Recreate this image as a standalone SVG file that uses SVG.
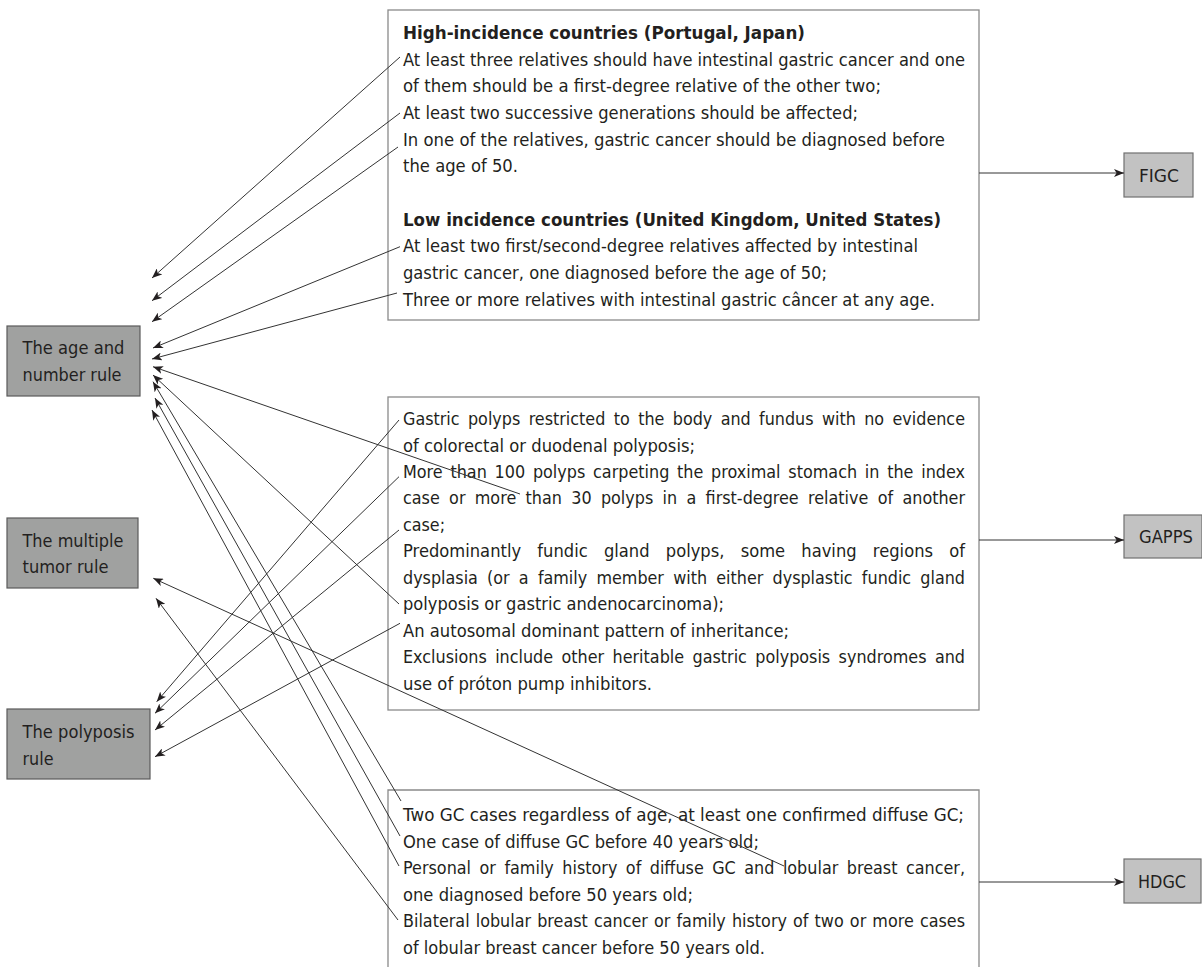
<svg xmlns="http://www.w3.org/2000/svg" width="1202" height="967" viewBox="0 0 1202 967">
<defs>
<marker id="ah" markerUnits="userSpaceOnUse" markerWidth="11" markerHeight="8" refX="10" refY="4" orient="auto">
<path d="M0,0 L10,4 L0,8 L2.6,4 z" fill="#231f20"/>
</marker>
<style>
.t{font-family:'DejaVu Sans',sans-serif;font-size:17px;fill:#231f20}
.b{font-weight:bold}
.lb{font-family:'DejaVu Sans',sans-serif;font-size:17.5px;fill:#231f20}
.rb{font-family:'DejaVu Sans',sans-serif;font-size:18px;fill:#231f20}
.box{fill:#ffffff;stroke:#8a8a8a;stroke-width:1.3}
.dk{fill:#a0a1a0;stroke:#5a5a5a;stroke-width:1.2}
.lt{fill:#c2c2c2;stroke:#707070;stroke-width:1.2}
.c line{stroke:#333333;stroke-width:1;fill:none;marker-end:url(#ah)}
</style>
</defs>
<rect width="1202" height="967" fill="#ffffff"/>

<g id="criteria-figc">
<rect class="box" x="388" y="10" width="591" height="310"/>
<text class="t b" x="403" y="39" textLength="402" lengthAdjust="spacingAndGlyphs">High-incidence countries (Portugal, Japan)</text>
<text class="t" x="403" y="65.7" textLength="562" lengthAdjust="spacingAndGlyphs">At least three relatives should have intestinal gastric cancer and one</text>
<text class="t" x="403" y="92.3" textLength="478" lengthAdjust="spacingAndGlyphs">of them should be a first-degree relative of the other two;</text>
<text class="t" x="403" y="119" textLength="455" lengthAdjust="spacingAndGlyphs">At least two successive generations should be affected;</text>
<text class="t" x="403" y="145.7" textLength="542" lengthAdjust="spacingAndGlyphs">In one of the relatives, gastric cancer should be diagnosed before</text>
<text class="t" x="403" y="172.3" textLength="115" lengthAdjust="spacingAndGlyphs">the age of 50.</text>
<text class="t b" x="403" y="225.7" textLength="538" lengthAdjust="spacingAndGlyphs">Low incidence countries (United Kingdom, United States)</text>
<text class="t" x="403" y="252.3" textLength="515" lengthAdjust="spacingAndGlyphs">At least two first/second-degree relatives affected by intestinal</text>
<text class="t" x="403" y="279" textLength="424" lengthAdjust="spacingAndGlyphs">gastric cancer, one diagnosed before the age of 50;</text>
<text class="t" x="403" y="305.7" textLength="532" lengthAdjust="spacingAndGlyphs">Three or more relatives with intestinal gastric câncer at any age.</text>
</g>

<g id="criteria-gapps">
<rect class="box" x="388" y="397" width="591" height="313"/>
<text class="t" x="403" y="425" word-spacing="3.5" textLength="562" lengthAdjust="spacingAndGlyphs">Gastric polyps restricted to the body and fundus with no evidence</text>
<text class="t" x="403" y="451.5" textLength="292" lengthAdjust="spacingAndGlyphs">of colorectal or duodenal polyposis;</text>
<text class="t" x="403" y="477.9" word-spacing="2.8" textLength="562" lengthAdjust="spacingAndGlyphs">More than 100 polyps carpeting the proximal stomach in the index</text>
<text class="t" x="403" y="504.4" word-spacing="4.5" textLength="562" lengthAdjust="spacingAndGlyphs">case or more than 30 polyps in a first-degree relative of another</text>
<text class="t" x="403" y="530.8" textLength="42" lengthAdjust="spacingAndGlyphs">case;</text>
<text class="t" x="403" y="557.2" word-spacing="11.5" textLength="562" lengthAdjust="spacingAndGlyphs">Predominantly fundic gland polyps, some having regions of</text>
<text class="t" x="403" y="583.7" word-spacing="4.4" textLength="562" lengthAdjust="spacingAndGlyphs">dysplasia (or a family member with either dysplastic fundic gland</text>
<text class="t" x="403" y="610.1" textLength="321" lengthAdjust="spacingAndGlyphs">polyposis or gastric andenocarcinoma);</text>
<text class="t" x="403" y="636.6" textLength="386" lengthAdjust="spacingAndGlyphs">An autosomal dominant pattern of inheritance;</text>
<text class="t" x="403" y="663" word-spacing="3.5" textLength="562" lengthAdjust="spacingAndGlyphs">Exclusions include other heritable gastric polyposis syndromes and</text>
<text class="t" x="403" y="689.5" textLength="249" lengthAdjust="spacingAndGlyphs">use of próton pump inhibitors.</text>
</g>

<g id="criteria-hdgc">
<path class="box" d="M388,968 V790 H979 V968"/>
<text class="t" x="403" y="821" textLength="561" lengthAdjust="spacingAndGlyphs">Two GC cases regardless of age, at least one confirmed diffuse GC;</text>
<text class="t" x="403" y="847.5" textLength="356" lengthAdjust="spacingAndGlyphs">One case of diffuse GC before 40 years old;</text>
<text class="t" x="403" y="874" word-spacing="3.6" textLength="562" lengthAdjust="spacingAndGlyphs">Personal or family history of diffuse GC and lobular breast cancer,</text>
<text class="t" x="403" y="900.5" textLength="290" lengthAdjust="spacingAndGlyphs">one diagnosed before 50 years old;</text>
<text class="t" x="403" y="927" word-spacing="1.1" textLength="562" lengthAdjust="spacingAndGlyphs">Bilateral lobular breast cancer or family history of two or more cases</text>
<text class="t" x="403" y="953.5" textLength="362" lengthAdjust="spacingAndGlyphs">of lobular breast cancer before 50 years old.</text>
</g>

<g id="age-number-rule">
<rect class="dk" x="7" y="326" width="133" height="70"/>
<text class="lb" x="22.5" y="354" textLength="102" lengthAdjust="spacingAndGlyphs">The age and</text>
<text class="lb" x="22.5" y="380.7" textLength="99" lengthAdjust="spacingAndGlyphs">number rule</text>
</g>

<g id="multiple-tumor-rule">
<rect class="dk" x="7" y="518" width="131" height="70"/>
<text class="lb" x="22.5" y="546.7" textLength="101" lengthAdjust="spacingAndGlyphs">The multiple</text>
<text class="lb" x="22.5" y="572.7" textLength="86" lengthAdjust="spacingAndGlyphs">tumor rule</text>
</g>

<g id="polyposis-rule">
<rect class="dk" x="7" y="709" width="143" height="70"/>
<text class="lb" x="22.5" y="738.3" textLength="112" lengthAdjust="spacingAndGlyphs">The polyposis</text>
<text class="lb" x="22.5" y="765" textLength="31" lengthAdjust="spacingAndGlyphs">rule</text>
</g>

<g id="figc">
<rect class="lt" x="1124" y="153" width="69" height="44"/>
<text class="rb" x="1139" y="182" textLength="40" lengthAdjust="spacingAndGlyphs">FIGC</text>
</g>

<g id="gapps">
<rect class="lt" x="1124" y="515" width="78" height="43"/>
<text class="rb" x="1139" y="543" textLength="54" lengthAdjust="spacingAndGlyphs">GAPPS</text>
</g>

<g id="hdgc">
<rect class="lt" x="1124" y="859" width="77" height="44"/>
<text class="rb" x="1138" y="888" textLength="48" lengthAdjust="spacingAndGlyphs">HDGC</text>
</g>

<g id="connectors" class="c">
<line x1="400" y1="57" x2="152" y2="278"/>
<line x1="400" y1="113" x2="152" y2="300.7"/>
<line x1="398" y1="147" x2="152" y2="321.7"/>
<line x1="400" y1="246.7" x2="153" y2="348"/>
<line x1="397" y1="293" x2="152" y2="359"/>
<line x1="520" y1="494" x2="153" y2="366.7"/>
<line x1="399" y1="604" x2="153" y2="375"/>
<line x1="399" y1="420" x2="156.7" y2="701.7"/>
<line x1="399" y1="476.7" x2="155" y2="713.3"/>
<line x1="399" y1="530" x2="155" y2="730"/>
<line x1="400" y1="623.3" x2="155" y2="756.7"/>
<line x1="401" y1="801" x2="153" y2="381.7"/>
<line x1="400" y1="836" x2="155" y2="398"/>
<line x1="399" y1="866" x2="152" y2="410"/>
<line x1="784" y1="866" x2="153.3" y2="578.3"/>
<line x1="398" y1="920" x2="156" y2="598.3"/>
<line x1="979" y1="173" x2="1124" y2="173"/>
<line x1="979" y1="540" x2="1124" y2="540"/>
<line x1="979" y1="882" x2="1124" y2="882"/>
</g>
</svg>
